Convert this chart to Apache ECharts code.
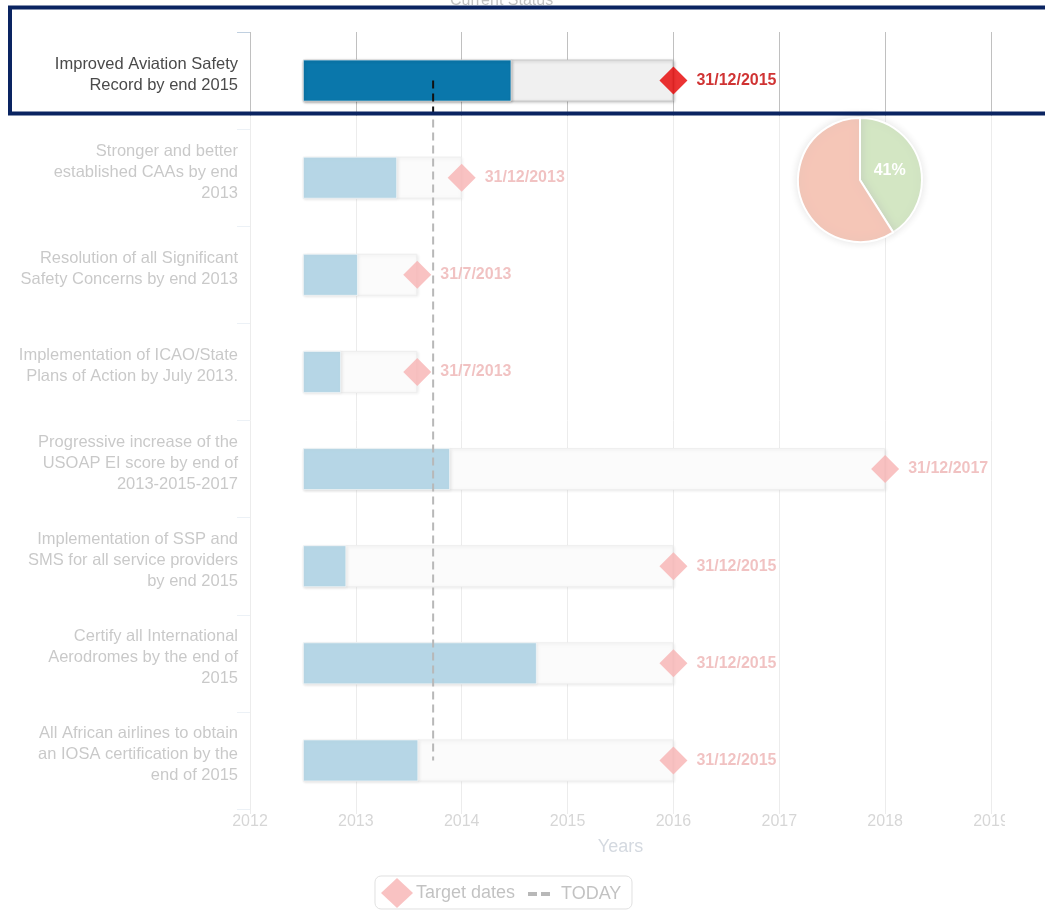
<!DOCTYPE html>
<html>
<head>
<meta charset="utf-8">
<script src="https://cdn.jsdelivr.net/npm/echarts@6/dist/echarts.min.js"></script>
<style>
html,body{margin:0;padding:0;background:#fff;overflow:hidden;}
#chart{width:1045px;height:910px;}
</style>
</head>
<body>
<div id="chart"></div>
<script>
const categories = [
  'Improved Aviation Safety\nRecord by end 2015',
  'Stronger and better\nestablished CAAs by end\n2013',
  'Resolution of all Significant\nSafety Concerns by end 2013',
  'Implementation of ICAO/State\nPlans of Action by July 2013.',
  'Progressive increase of the\nUSOAP EI score by end of\n2013-2015-2017',
  'Implementation of SSP and\nSMS for all service providers\nby end 2015',
  'Certify all International\nAerodromes by the end of\n2015',
  'All African airlines to obtain\nan IOSA certification by the\nend of 2015'
];
const startDates   = [2012.5, 2012.5, 2012.5, 2012.5, 2012.5, 2012.5, 2012.5, 2012.5];
const progressEnd  = [2014.47, 2013.39, 2013.02, 2012.86, 2013.89, 2012.91, 2014.71, 2013.59];
const targetDates  = [2016.0, 2014.0, 2013.58, 2013.58, 2018.0, 2016.0, 2016.0, 2016.0];
const targetLabels = ['31/12/2015','31/12/2013','31/7/2013','31/7/2013','31/12/2017','31/12/2015','31/12/2015','31/12/2015'];
const todayValue = 2013.73;
const pieNames  = ['Achieved', 'Remaining'];
const pieValues = [41, 59];
const yearMin = 2012, yearMax = 2019;

const FONT = '"Liberation Sans", Arial, sans-serif';
const chart = echarts.init(document.getElementById('chart'), null, {renderer: 'canvas'});

const option = {
  animation: false,
  textStyle: {fontFamily: FONT},
  title: {
    text: 'Current Status', left: 445, top: -12,
    textStyle: {fontFamily: FONT, fontSize: 16, fontWeight: 'normal', color: '#333'}
  },
  grid: {left: 250, right: 54, top: 32, bottom: 101, containLabel: false},
  xAxis: {
    type: 'value', min: yearMin, max: yearMax, interval: 1,
    name: 'Years', nameLocation: 'middle', nameGap: 29,
    nameTextStyle: {fontFamily: FONT, fontSize: 18, color: '#6e7f96'},
    axisLine: {show: false},
    axisTick: {show: true, length: 5, lineStyle: {color: '#c0c0c0'}},
    axisLabel: {fontFamily: FONT, fontSize: 16, color: '#777', margin: 5,
      formatter: v => String(v)},
    splitLine: {show: true, lineStyle: {color: '#c0c0c0', width: 1}}
  },
  yAxis: {
    type: 'category', data: categories, inverse: true,
    axisLine: {show: false},
    axisTick: {show: true, length: 13, lineStyle: {color: '#c0d0e0'}},
    axisLabel: {
      margin: 12, align: 'right', color: '#4a4a4a',
      formatter: v => v.split('\n').map(l => '{a|' + l + '}').join('\n') + '\n{s|}',
      rich: {
        a: {fontFamily: FONT, fontSize: 16.5, lineHeight: 21, color: '#4a4a4a', align: 'right'},
        s: {fontSize: 1, lineHeight: 11, height: 11}
      }
    },
    splitLine: {show: false}
  },
  legend: [
    {
      left: 381, top: 878,
      itemWidth: 32, itemHeight: 30, padding: 0,
      textStyle: {fontFamily: FONT, fontSize: 18, color: '#333', padding: [0, 0, 0, -2]},
      data: [{name: 'Target dates', icon: 'diamond'}]
    },
    {
      left: 528, top: 885,
      itemWidth: 22, itemHeight: 4, padding: 0,
      textStyle: {fontFamily: FONT, fontSize: 18, color: '#333', padding: [0, 0, 0, 6]},
      data: [{name: 'TODAY', icon: 'path://M0,0h9v4h-9z M13,0h9v4h-9z'}]
    }
  ],
  series: [
    {
      name: 'tgtBase', type: 'bar', stack: 'tgt', barWidth: 42, barGap: '-100%',
      data: startDates, itemStyle: {color: 'transparent'}, silent: true
    },
    {
      name: 'Target span', type: 'bar', stack: 'tgt', barWidth: 42,
      data: targetDates.map((t, i) => +(t - startDates[i]).toFixed(3)),
      itemStyle: {color: '#f0f0f0', borderColor: '#c8c8c8', borderWidth: 1,
        shadowColor: 'rgba(0,0,0,0.25)', shadowBlur: 3, shadowOffsetX: 1, shadowOffsetY: 1}
    },
    {
      name: 'progBase', type: 'bar', stack: 'prog', barWidth: 42,
      data: startDates, itemStyle: {color: 'transparent'}, silent: true
    },
    {
      name: 'Progress', type: 'bar', stack: 'prog', barWidth: 42,
      data: progressEnd.map((p, i) => +(p - startDates[i]).toFixed(3)),
      itemStyle: {color: '#0a77ab', borderColor: 'rgba(255,255,255,0.55)', borderWidth: 1,
        shadowColor: 'rgba(0,0,0,0.3)', shadowBlur: 3, shadowOffsetX: 1, shadowOffsetY: 1}
    },
    {
      name: 'Target dates', type: 'scatter', symbol: 'diamond', symbolSize: [28, 28],
      itemStyle: {color: '#e60000'},
      data: targetDates.map((t, i) => [t, categories[i]]),
      label: {
        show: true, position: 'right', distance: 9,
        fontFamily: FONT, fontSize: 16, fontWeight: 'bold', color: '#c40000',
        formatter: p => targetLabels[p.dataIndex]
      },
      z: 4
    },
    {
      name: 'TODAY', type: 'line', symbol: 'none',
      data: [[todayValue, categories[0]], [todayValue, categories[categories.length - 1]]],
      lineStyle: {color: '#111', width: 2, type: [8, 5]},
      itemStyle: {color: '#111'},
      z: 5
    },
    {
      name: 'Status', type: 'pie', center: [860, 180], radius: 62,
      startAngle: 90, clockwise: true, silent: true,
      itemStyle: {borderColor: '#fff', borderWidth: 2, shadowColor: 'rgba(0,0,0,0.35)', shadowBlur: 8},
      label: {show: true, position: 'inside', formatter: '{d}%', color: '#fff',
        fontFamily: FONT, fontSize: 16, fontWeight: 'bold', offset: [-3, 0]},
      labelLine: {show: false},
      data: [
        {name: pieNames[0], value: pieValues[0], itemStyle: {color: '#6cac37'}},
        {name: pieNames[1], value: pieValues[1], itemStyle: {color: '#de4010'}, label: {show: false}}
      ]
    }
  ],
  graphic: [
    {type: 'rect', z: 99, silent: true, shape: {x: 375, y: 876, width: 257, height: 33, r: 6},
      style: {fill: 'none', stroke: '#999', lineWidth: 1}},
    {type: 'rect', z: 100, silent: true, shape: {x: 0, y: 0, width: 1045, height: 6},
      style: {fill: 'rgba(255,255,255,0.7)'}},
    {type: 'rect', z: 100, silent: true, shape: {x: 0, y: 116, width: 1045, height: 800},
      style: {fill: 'rgba(255,255,255,0.7)'}},
    {type: 'rect', z: 101, silent: true, shape: {x: 1005, y: 806, width: 45, height: 40},
      style: {fill: '#fff'}},
    {type: 'rect', z: 102, silent: true, shape: {x: 10, y: 7.5, width: 1100, height: 106},
      style: {fill: 'none', stroke: '#0a2461', lineWidth: 4}}
  ]
};
chart.setOption(option);
</script>
</body>
</html>
